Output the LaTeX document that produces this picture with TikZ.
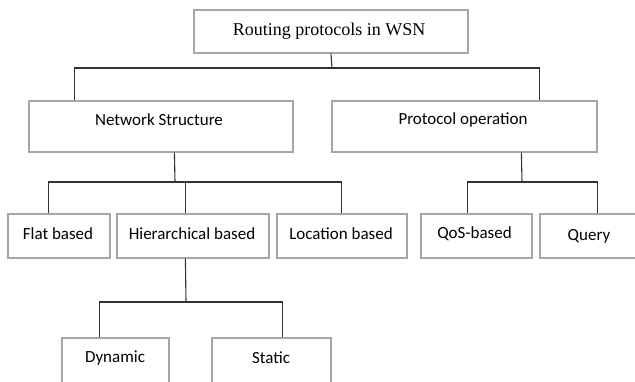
\documentclass[tikz,border=0pt]{standalone}
\usepackage{fontspec}
\setmainfont{Carlito}
\newfontfamily\serifroot{Liberation Serif}
\tikzset{
  box/.style={draw=black!35, line width=1.2pt, fill=white, inner sep=0pt},
  conn/.style={draw=black!80, line width=1.1pt},
  lbl/.style={font=\fontsize{17}{20}\selectfont, inner sep=0pt, text=black}
}
\begin{document}
\begin{tikzpicture}[x=1pt,y=-1pt]
\useasboundingbox (0,0) rectangle (635,381);
\clip (0,0) rectangle (635,381);
% boxes
\node[box, minimum width=274pt, minimum height=43pt] (root) at (331,31.5) {};
\node[font=\serifroot\fontsize{18}{21}\selectfont, inner sep=0pt] (roott) at (329,31) {Routing protocols in WSN};
\node[box, minimum width=264pt, minimum height=51pt] (ns) at (161,126.5) {};
\node[lbl] (nst) at (159,120) {Network Structure};
\node[box, minimum width=265pt, minimum height=51pt] (po) at (464.5,126.5) {};
\node[lbl] (pot) at (463,120) {Protocol operation};
\node[box, minimum width=102pt, minimum height=44pt] (flat) at (59,236) {};
\node[lbl] (flatt) at (58,234) {Flat based};
\node[box, minimum width=152pt, minimum height=44pt] (hier) at (193,236) {};
\node[lbl] (hiert) at (192,234) {Hierarchical based};
\node[box, minimum width=130pt, minimum height=44pt] (loc) at (342,236) {};
\node[lbl] (loct) at (341,234) {Location based};
\node[box, minimum width=111pt, minimum height=44pt] (qos) at (476.5,236) {};
\node[lbl] (qost) at (474.5,234) {QoS-based};
\node[box, minimum width=100pt, minimum height=44pt] (query) at (590,236) {};
\node[lbl] (queryt) at (589,236) {Query};
\node[box, minimum width=107pt, minimum height=60pt] (dyn) at (115.5,368) {};
\node[lbl] (dynt) at (115,358) {Dynamic};
\node[box, minimum width=119pt, minimum height=60pt] (stat) at (271.5,368) {};
\node[lbl] (statt) at (271,358) {Static};
% connectors
\coordinate (j1) at (332,68);
\coordinate (j2) at (175,182);
\coordinate (j3) at (522,182);
\coordinate (j4) at (186,302);
\draw[conn] (root.south) -- (j1);
\draw[conn] ([xshift=46pt]ns.north west) |- (j1) -| ([xshift=208pt]po.north west);
\draw[conn] ([xshift=146pt]ns.south west) -- (j2);
\draw[conn] ([xshift=41pt]flat.north west) |- (j2) -| ([xshift=65pt]loc.north west);
\draw[conn] ([xshift=69pt]hier.north west) -- ([xshift=69pt]hier.north west |- j2);
\draw[conn] ([xshift=190pt]po.south west) -- (j3);
\draw[conn] ([xshift=47pt]qos.north west) |- (j3) -| ([xshift=58pt]query.north west);
\draw[conn] ([xshift=69pt]hier.south west) -- (j4);
\draw[conn] ([xshift=38pt]dyn.north west) |- (j4) -| ([xshift=71pt]stat.north west);
\end{tikzpicture}
\end{document}
